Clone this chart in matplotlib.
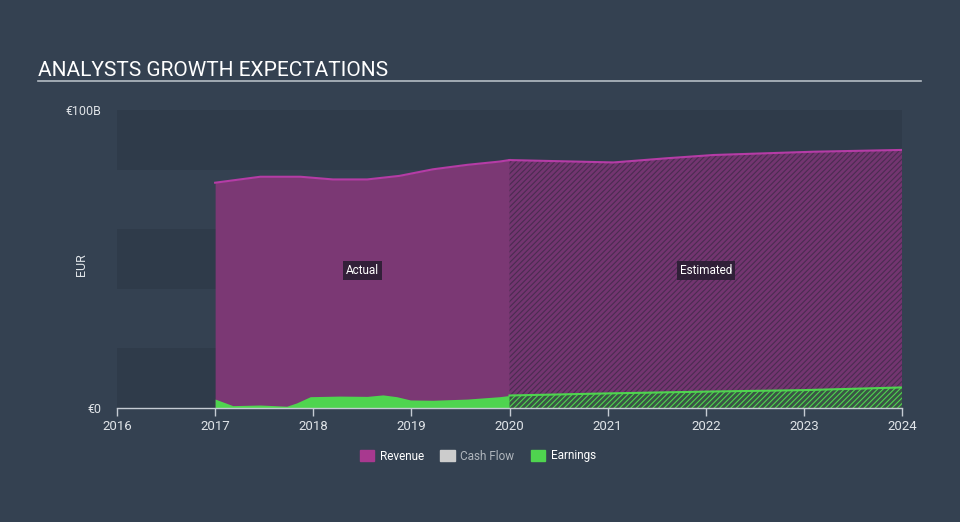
import matplotlib.pyplot as plt
from matplotlib.patches import Patch
from matplotlib.lines import Line2D

plt.rcParams['font.family'] = ['Roboto', 'DejaVu Sans']
plt.rcParams['hatch.linewidth'] = 0.8

# revenue (EUR bn), actual then estimated
rev_act_x = [2017.0, 2017.46, 2017.87, 2018.2, 2018.55, 2018.88, 2019.22, 2019.57, 2019.9, 2020.0]
rev_act_y = [75.6, 77.6, 77.6, 76.7, 76.7, 77.9, 80.1, 81.6, 82.7, 83.2]
rev_est_x = [2020.0, 2021.06, 2021.6, 2022.08, 2023.1, 2024.0]
rev_est_y = [83.2, 82.4, 83.8, 84.9, 86.0, 86.6]

# earnings (EUR bn)
earn_act_x = [2017.0, 2017.18, 2017.46, 2017.73, 2017.83, 2017.97, 2018.27, 2018.55, 2018.71,
              2018.85, 2018.99, 2019.22, 2019.57, 2019.9, 2020.0]
earn_act_y = [3.0, 0.8, 1.0, 0.6, 1.7, 3.8, 4.0, 3.9, 4.4, 3.8, 2.7, 2.6, 3.0, 3.8, 4.2]
earn_est_x = [2020.0, 2021.0, 2022.0, 2023.0, 2024.0]
earn_est_y = [4.2, 4.9, 5.5, 6.0, 6.9]

years = [2016, 2017, 2018, 2019, 2020, 2021, 2022, 2023, 2024]

bg = '#344151'
band = '#2f3b4a'
purple = '#7b3874'
purple_line = '#b53ca6'
green = '#4fd44f'
axis_col = '#c5cbd3'

fig = plt.figure(figsize=(9.6, 5.22), dpi=100, facecolor=bg)
ax = fig.add_axes([117 / 960, 114 / 522, 785 / 960, 298 / 522], facecolor=bg)

for lo in (0, 40, 80):
    ax.axhspan(lo, lo + 20, color=band, lw=0, zorder=0)

# revenue
ax.fill_between(rev_act_x, 0, rev_act_y, color=purple, lw=0, zorder=1)
ax.plot(rev_act_x, rev_act_y, color=purple_line, lw=1.5, zorder=2)
ax.fill_between(rev_est_x, 0, rev_est_y, facecolor='#733570', edgecolor='#4b2c51',
                hatch='//////', lw=0, zorder=1)
ax.plot(rev_est_x, rev_est_y, color=purple_line, lw=1.5, zorder=2)

# earnings
ax.fill_between(earn_act_x, 0, earn_act_y, color=green, lw=0, zorder=3)
ax.fill_between(earn_est_x, 0, earn_est_y, facecolor='#3a5545', edgecolor=green,
                hatch='//////', lw=0, zorder=3)
ax.plot(earn_est_x, earn_est_y, color=green, lw=1.5, zorder=4)

box = dict(boxstyle='square,pad=0.25', fc='#2a1e33', ec='none', alpha=0.9)
ax.text(2018.5, 46, 'Actual', color='white', fontsize=8.5, ha='center', va='center', bbox=box, zorder=5)
ax.text(2022.0, 46, 'Estimated', color='white', fontsize=8.5, ha='center', va='center', bbox=box, zorder=5)

ax.set_xlim(2016, 2024)
ax.set_ylim(0, 100)
ax.set_xticks(years)
ax.set_xticklabels([str(y) for y in years])
ax.set_yticks([0, 100])
ax.set_yticklabels(['€0', '€100B'])
ax.tick_params(axis='x', colors=axis_col, labelcolor='#e0e4e8', labelsize=9.5, length=6, width=1, pad=3)
ax.tick_params(axis='y', length=0, labelcolor='#e0e4e8', labelsize=9, pad=11)
for s in ('top', 'right', 'left'):
    ax.spines[s].set_visible(False)
ax.spines['bottom'].set_color(axis_col)
ax.spines['bottom'].set_linewidth(1)
ax.spines['bottom'].set_zorder(6)

ax.set_ylabel('EUR', color='#e0e4e8', fontsize=9)
ax.yaxis.set_label_coords(-(117 - 88) / 785, 0.48)

fig.text(38 / 960, (522 - 76) / 522, 'ANALYSTS GROWTH EXPECTATIONS', color='white',
         fontsize=15, va='baseline', ha='left')
fig.add_artist(Line2D([38 / 960, 921 / 960], [(522 - 81) / 522] * 2, color='#b4bcc4', lw=1.2))

handles = [Patch(color='#a8398f'), Patch(color='#cccccc'), Patch(color=green)]
leg = fig.legend(handles, ['Revenue', 'Cash Flow', 'Earnings'], loc='center',
                 bbox_to_anchor=(478 / 960, (522 - 456) / 522), ncol=3, frameon=False,
                 fontsize=8.5, handlelength=1.2, handleheight=1.0, handletextpad=0.5,
                 columnspacing=1.4)
for t, c in zip(leg.get_texts(), ['white', '#b0b6bd', 'white']):
    t.set_color(c)

fig.savefig('out.png', dpi=100, facecolor=bg)
